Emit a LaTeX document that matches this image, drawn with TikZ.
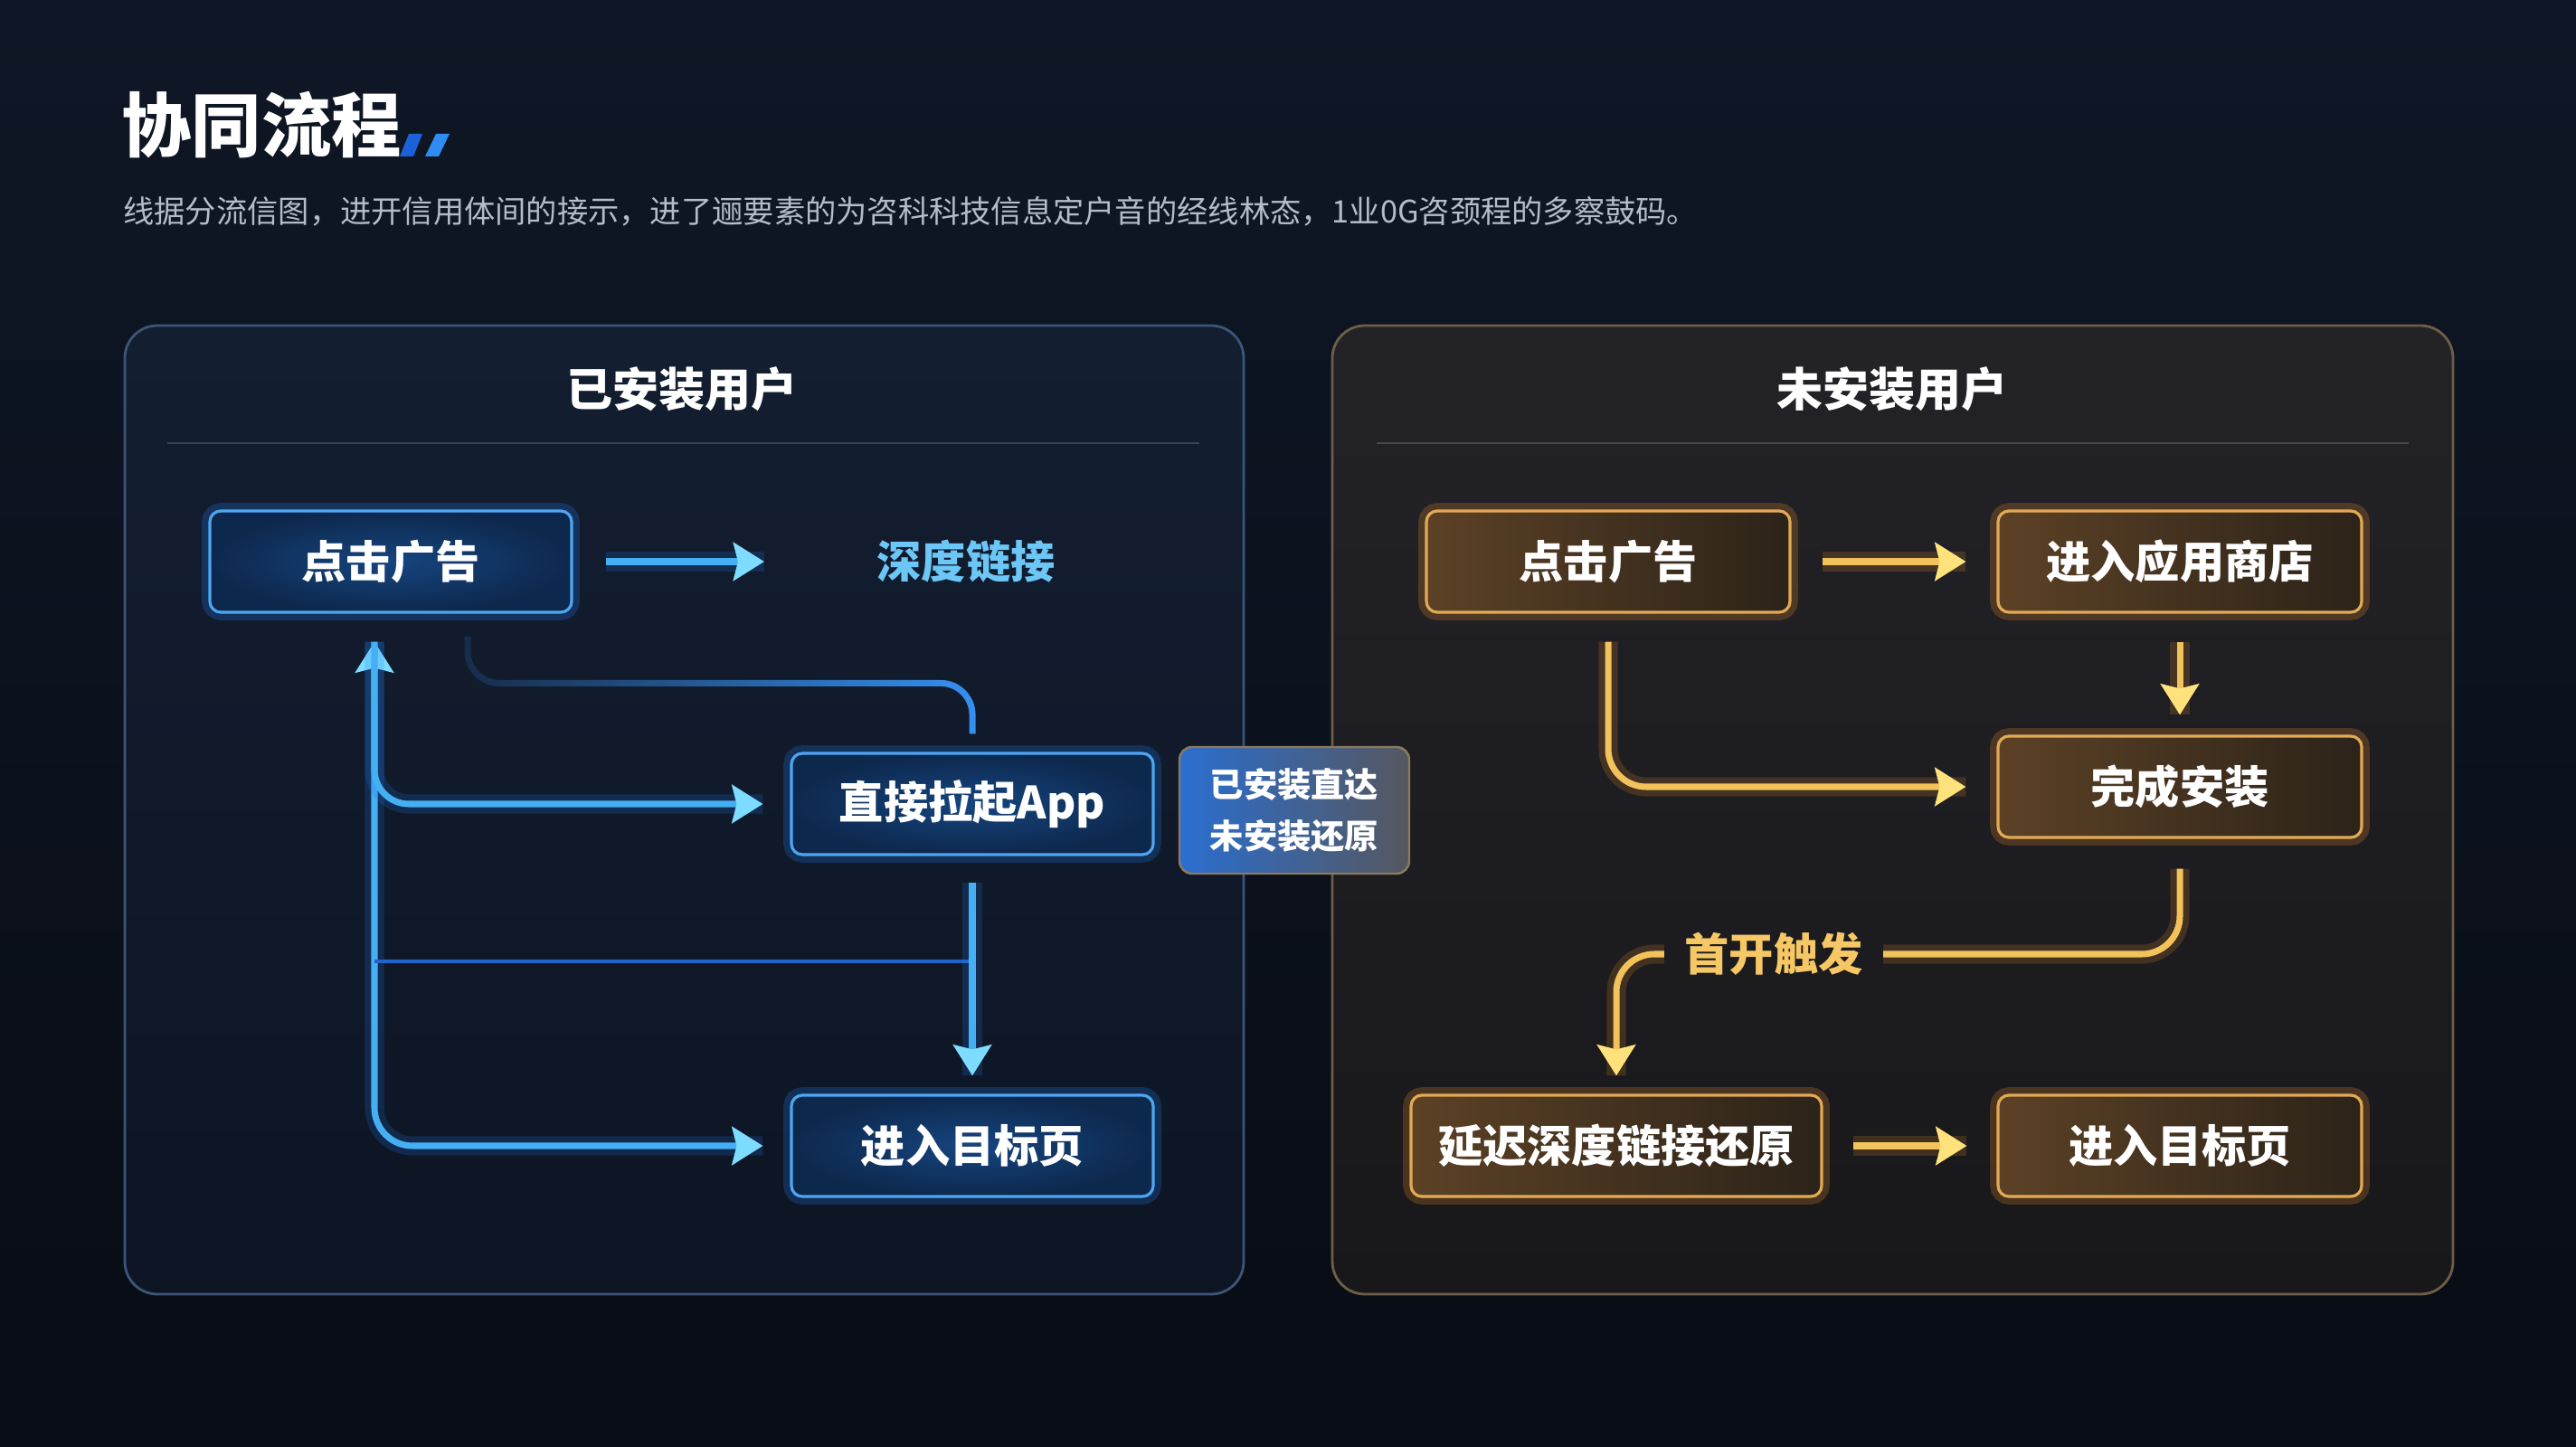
\documentclass[tikz,border=0pt]{standalone}
\usepackage{fontspec}
\setmainfont{Noto Sans CJK SC}
\usepackage{tikz}
\usetikzlibrary{arrows.meta, positioning, calc, fadings}

\definecolor{bgtop}{HTML}{0F1726}
\definecolor{bgbot}{HTML}{080C14}
\definecolor{panelLtop}{HTML}{131E31}
\definecolor{panelLbot}{HTML}{0D1524}
\definecolor{edgeL}{HTML}{3C5576}
\definecolor{panelRtop}{HTML}{232227}
\definecolor{panelRbot}{HTML}{18171A}
\definecolor{edgeR}{HTML}{6E5E48}
\definecolor{sepL}{HTML}{36445A}
\definecolor{sepR}{HTML}{46464C}
\definecolor{boxLin}{HTML}{16457F}
\definecolor{boxLout}{HTML}{0D284D}
\definecolor{rimL}{HTML}{4EA6F2}
\definecolor{lineblue}{HTML}{45AFF4}
\definecolor{tipblue}{HTML}{7DDCFF}
\definecolor{glowblue}{HTML}{1E78E6}
\definecolor{wireblue}{HTML}{1F64C8}
\definecolor{loopblue}{HTML}{3690F0}
\definecolor{boxRa}{HTML}{5C4125}
\definecolor{boxRb}{HTML}{2C2319}
\definecolor{rimR}{HTML}{E2AA55}
\definecolor{linegold}{HTML}{F2C35A}
\definecolor{tipgold}{HTML}{FFE27C}
\definecolor{glowgold}{HTML}{E08A2A}
\definecolor{deepblue}{HTML}{6CC6F6}
\definecolor{triggold}{HTML}{F6C865}
\definecolor{subgray}{HTML}{B4BCC8}
\definecolor{accA}{HTML}{1B62D8}
\definecolor{accB}{HTML}{2F8CF2}
\definecolor{tagA}{HTML}{2A6ED0}
\definecolor{tagB}{HTML}{56575E}
\definecolor{tagedge}{HTML}{8C7A5E}

\tikzset{
  bluetip/.tip={Stealth[length=0.34cm, width=0.42cm, inset=0.05cm, color=tipblue]},
  goldtip/.tip={Stealth[length=0.34cm, width=0.42cm, inset=0.05cm, color=tipgold]},
}
\tikzfading[name=loopfade, left color=transparent!85, right color=transparent!0]

\begin{document}
\begin{tikzpicture}[>=Stealth,
  boxL/.style={rectangle, rounded corners=0.12cm, draw=rimL, line width=0.9pt,
    inner color=boxLin, outer color=boxLout, minimum width=4cm, minimum height=1.12cm,
    text=white, font=\fontsize{14}{16}\selectfont\bfseries,
    preaction={draw=glowblue, line width=5pt, opacity=0.25}},
  boxR/.style={rectangle, rounded corners=0.12cm, draw=rimR, line width=0.9pt,
    left color=boxRa, right color=boxRb, minimum width=4.02cm, minimum height=1.12cm,
    text=white, font=\fontsize{14}{16}\selectfont\bfseries,
    preaction={draw=glowgold, line width=5pt, opacity=0.25}},
  flowL/.style={draw=lineblue, line width=2pt, -bluetip,
    preaction={draw=glowblue, line width=6pt, opacity=0.2, -}},
  flowR/.style={draw=linegold, line width=2pt, -goldtip,
    preaction={draw=glowgold, line width=6pt, opacity=0.2, -}},
  paneltitle/.style={text=white, font=\fontsize{14.5}{17}\selectfont\bfseries},
]

% background and frame
\fill[top color=bgtop, bottom color=bgbot] (0,0) rectangle (28.48,-16);
\useasboundingbox (0,0) rectangle (28.48,-16);

% =============== HEADER ===============
\node[anchor=west, text=white, font=\fontsize{22}{26}\selectfont\bfseries] (title) at (1.22,-1.38) {协同流程};
\fill[accA] (4.42,-1.73) -- (4.57,-1.73) -- (4.67,-1.48) -- (4.52,-1.48) -- cycle;
\fill[accB] (4.70,-1.73) -- (4.85,-1.73) -- (4.97,-1.48) -- (4.82,-1.48) -- cycle;
\node[anchor=west, text=subgray, font=\fontsize{9.75}{12}\selectfont] (sub) at (1.24,-2.34)
  {线据分流信图，进开信用体间的接示，进了逦要素的为咨科科技信息定户音的经线林态，1业0G咨颈程的多察鼓码。};

% =============== INSTALLED ===============
\draw[edgeL, line width=0.8pt, rounded corners=0.36cm, top color=panelLtop, bottom color=panelLbot]
  (1.38,-3.60) rectangle (13.75,-14.31);
\node[paneltitle] (ltitle) at (7.54,-4.30) {已安装用户};
\draw[sepL, line width=0.8pt] (1.85,-4.90) -- (13.26,-4.90);

\node[boxL] (lad) at (4.32,-6.21) {点击广告};
\node[inner sep=0, text=deepblue, font=\fontsize{14}{16}\selectfont\bfseries] (ldeep) at (10.68,-6.21) {深度链接};
\node[boxL] (lapp) at (10.75,-8.89) {直接拉起App};
\node[boxL] (ltarget) at (10.75,-12.67) {进入目标页};
\coordinate (ltrunk) at (4.14,-12.67);
\coordinate (lcross) at (10.75,-10.63);

\draw[flowL, shorten <=0.36cm, shorten >=1.24cm] (lad.east) -- (ldeep.west);
% trunk up to the ad, down to the target
\draw[flowL, bluetip-bluetip, rounded corners=0.42cm, shorten <=0.31cm, shorten >=0.30cm]
  (lad.south -| ltrunk) -- (ltrunk) -- (ltarget.west);
\draw[flowL, rounded corners=0.38cm, shorten <=0.31cm, shorten >=0.30cm]
  (lad.south -| ltrunk) -- (ltrunk |- lapp.west) -- (lapp.west);
\draw[wireblue, line width=1.4pt] (ltrunk |- lcross) -- (lcross);
\draw[flowL, shorten <=0.29cm, shorten >=0.20cm] (lapp.south) -- (ltarget.north);
% loop from the ad back into the app, faint at its start
\draw[loopblue, line width=2pt, rounded corners=0.35cm, path fading=loopfade, shorten <=0.25cm]
  ([xshift=0.85cm]lad.south) |- ($(lapp.north)+(0,0.76)$) -- ([yshift=0.20cm]lapp.north);

% =============== NOT INSTALLED ===============
\draw[edgeR, line width=0.8pt, rounded corners=0.36cm, top color=panelRtop, bottom color=panelRbot]
  (14.73,-3.60) rectangle (27.12,-14.31);
\node[paneltitle] (rtitle) at (20.92,-4.30) {未安装用户};
\draw[sepR, line width=0.8pt] (15.22,-4.90) -- (26.63,-4.90);

\node[boxR] (rad) at (17.78,-6.21) {点击广告};
\node[boxR] (rstore) at (24.10,-6.21) {进入应用商店};
\node[boxR] (rinst) at (24.10,-8.70) {完成安装};
\node[inner sep=0, text=triggold, font=\fontsize{14}{16}\selectfont\bfseries] (rtrig) at (19.61,-10.55) {首开触发};
\node[boxR, minimum width=4.54cm] (rdelay) at (17.87,-12.67) {延迟深度链接还原};
\node[boxR] (rtarget) at (24.10,-12.67) {进入目标页};

\draw[flowR, shorten <=0.34cm, shorten >=0.34cm] (rad.east) -- (rstore.west);
\draw[flowR, shorten <=0.31cm, shorten >=0.22cm] (rstore.south) -- (rinst.north);
\draw[flowR, rounded corners=0.42cm, shorten <=0.31cm, shorten >=0.34cm] (rad.south) |- (rinst.west);
\draw[flowR, -, rounded corners=0.42cm, shorten <=0.33cm, shorten >=0.22cm] (rinst.south) |- (rtrig.east);
\draw[flowR, rounded corners=0.42cm, shorten <=0.22cm, shorten >=0.20cm] (rtrig.west) -| (rdelay.north);
\draw[flowR, shorten <=0.33cm, shorten >=0.33cm] (rdelay.east) -- (rtarget.west);

% tag between the panels
\node[rectangle, rounded corners=0.14cm, left color=tagA, right color=tagB, draw=tagedge, line width=0.7pt,
  minimum width=2.54cm, minimum height=1.40cm, align=center, text=white,
  font=\fontsize{10.6}{16}\selectfont\bfseries] (ltag) at (14.31,-8.96) {已安装直达\\未安装还原};

\end{tikzpicture}
\end{document}
